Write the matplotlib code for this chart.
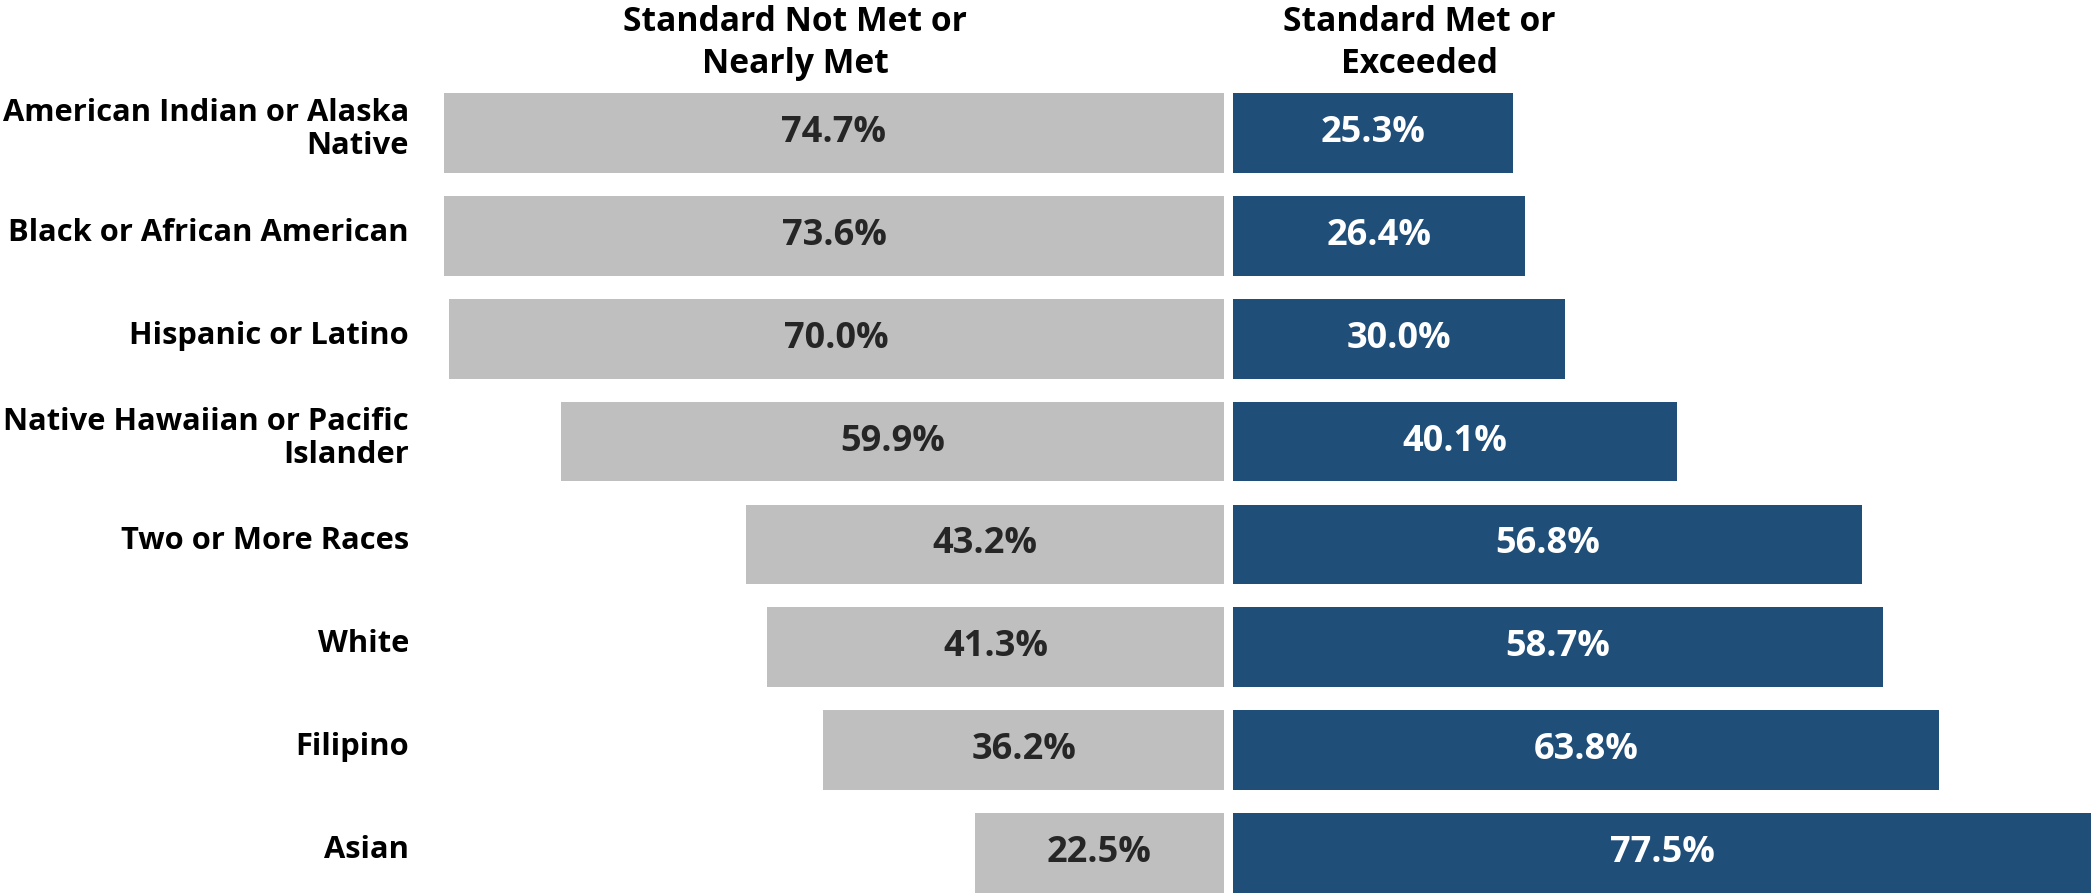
import matplotlib
matplotlib.use("Agg")
import matplotlib.pyplot as plt
from matplotlib.transforms import blended_transform_factory

categories = ["American Indian or Alaska\nNative", "Black or African American",
              "Hispanic or Latino", "Native Hawaiian or Pacific\nIslander",
              "Two or More Races", "White", "Filipino", "Asian"]
not_met = [74.7, 73.6, 70.0, 59.9, 43.2, 41.3, 36.2, 22.5]
met = [25.3, 26.4, 30.0, 40.1, 56.8, 58.7, 63.8, 77.5]
headers = ["Standard Not Met or\nNearly Met", "Standard Met or\nExceeded"]

W, H, DPI = 2093, 893, 100
GRAY = "#BFBFBF"
BLUE = "#1F4E79"
FONT = "Open Sans"

fig = plt.figure(figsize=(W / DPI, H / DPI), dpi=DPI)
scale = 11.07  # px per percent
axL = fig.add_axes([444 / W, 0, 780 / W, 800 / H])
axR = fig.add_axes([1233 / W, 0, 860 / W, 800 / H])
limL = 780 / scale
limR = 860 / scale

y = list(range(len(categories)))
axL.barh(y, not_met, height=0.775, color=GRAY)
axR.barh(y, met, height=0.775, color=BLUE)
axL.set_xlim(limL, 0)
axR.set_xlim(0, limR)
for ax in (axL, axR):
    ax.set_ylim(len(categories) - 1 + 0.3875, -0.3875)
    ax.axis("off")

for i, v in enumerate(not_met):
    axL.text(min(v, limL) / 2, i, f"{v:.1f}%", ha="center", va="center",
             fontsize=26, fontweight="bold", color="#262626", family=FONT)
for i, v in enumerate(met):
    axR.text(min(v, limR) / 2, i, f"{v:.1f}%", ha="center", va="center",
             fontsize=26, fontweight="bold", color="white", family=FONT)

tr = blended_transform_factory(fig.transFigure, axL.transData)
for i, c in enumerate(categories):
    t = fig.text(409 / W, 0, c, transform=tr, ha="right", va="center",
                 fontsize=22.2, fontweight="bold", color="black", family=FONT,
                 linespacing=1.14)
    t.set_y(i - 0.03)

for xc, h in zip([795, 1419], headers):
    fig.text(xc / W, 1 - 43 / H, h, ha="center", va="center",
             fontsize=24.2, fontweight="bold", family=FONT, linespacing=1.3)

fig.savefig("out.png", dpi=DPI)
